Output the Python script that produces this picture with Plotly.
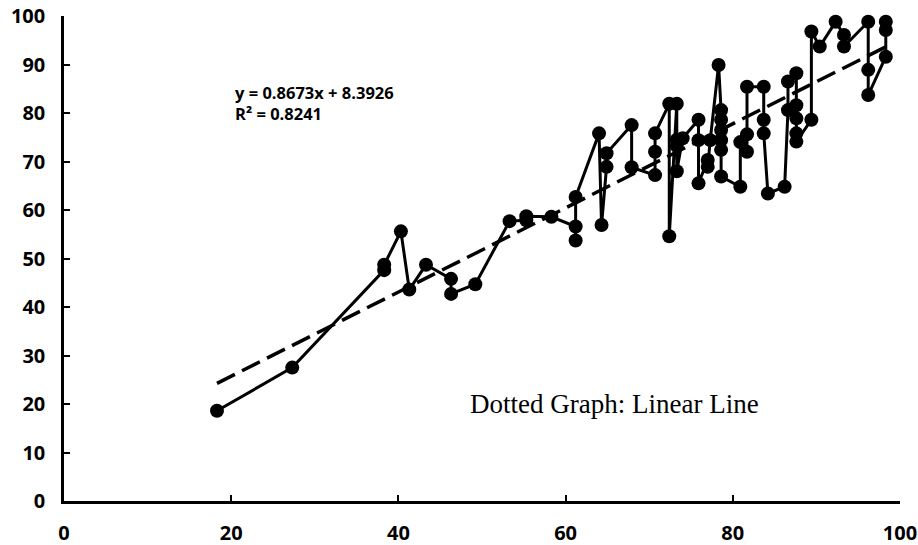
import plotly.graph_objects as go

x_vals = [18.3, 27.3, 38.3, 38.3, 40.3, 41.3, 43.3, 46.3, 46.3, 49.2,
          53.3, 55.3, 55.3, 58.3, 61.2, 61.2, 61.2, 64.0, 64.3, 64.9,
          64.9, 67.9, 67.9, 70.7, 70.7, 70.7, 72.4, 72.4, 73.3, 73.3,
          73.3, 73.3, 74.0, 75.9, 75.9, 75.9, 77.0, 77.0, 77.3, 78.3,
          78.6, 78.6, 78.6, 78.6, 78.6, 78.6, 80.9, 80.9, 81.7, 81.7,
          81.7, 83.7, 83.7, 83.7, 84.2, 86.2, 86.6, 86.6, 87.6, 87.6,
          87.6, 87.6, 87.6, 89.4, 89.4, 90.4, 92.3, 93.3, 93.3, 96.2,
          96.2, 96.2, 98.3, 98.3, 98.3]
y_vals = [18.6, 27.5, 47.6, 48.7, 55.6, 43.6, 48.7, 45.8, 42.7, 44.7,
          57.7, 57.9, 58.7, 58.6, 56.6, 53.7, 62.7, 75.8, 56.9, 68.9,
          71.7, 77.5, 68.8, 67.2, 72.0, 75.8, 81.9, 54.6, 81.9, 73.2,
          74.5, 68.0, 74.8, 78.6, 74.4, 65.5, 70.3, 68.9, 74.4, 89.9,
          80.6, 78.6, 76.5, 74.4, 72.4, 66.9, 64.8, 74.0, 72.0, 75.6,
          85.4, 85.4, 78.6, 75.8, 63.4, 64.8, 80.6, 86.5, 88.2, 81.6,
          78.9, 75.8, 74.1, 78.6, 96.8, 93.7, 98.8, 96.1, 93.7, 98.8,
          88.9, 83.7, 91.6, 97.1, 98.8]

slope = 0.8673
intercept = 8.3926
r_squared = 0.8241

x_ticks = [0, 20, 40, 60, 80, 100]
y_ticks = [0, 10, 20, 30, 40, 50, 60, 70, 80, 90, 100]

trend_x = [min(x_vals), max(x_vals)]
trend_y = [slope * v + intercept for v in trend_x]

W, H = 918, 545
ML, MR, MT, MB = 64, 18, 16, 44

fig = go.Figure()
fig.add_trace(go.Scatter(
    x=x_vals, y=y_vals, mode="lines+markers",
    line=dict(color="black", width=3),
    marker=dict(color="black", size=14),
    showlegend=False, hoverinfo="skip", cliponaxis=False))
fig.add_trace(go.Scatter(
    x=trend_x, y=trend_y, mode="lines",
    line=dict(color="black", width=3.5, dash="20px,8px"),
    showlegend=False, hoverinfo="skip"))

tickfont = dict(family="Open Sans", size=20, color="black", weight="bold")
fig.update_layout(
    width=W, height=H,
    margin=dict(l=ML, r=MR, t=MT, b=MB),
    paper_bgcolor="white", plot_bgcolor="white",
    xaxis=dict(range=[0, 100], tickvals=x_ticks, ticktext=[str(t) for t in x_ticks],
               showgrid=False, zeroline=False, showline=True, linecolor="black",
               linewidth=2.5, ticks="inside", ticklen=6, tickwidth=2,
               tickcolor="black", tickfont=tickfont, ticklabelstandoff=12,
               automargin=False),
    yaxis=dict(range=[0, 100], tickvals=y_ticks, ticktext=[str(t) for t in y_ticks],
               showgrid=False, zeroline=False, showline=True, linecolor="black",
               linewidth=2.5, ticks="inside", ticklen=6, tickwidth=2,
               tickcolor="black", tickfont=tickfont, ticklabelstandoff=12,
               automargin=False),
)

eqfont = dict(family="Open Sans", size=16.5, color="black", weight="bold")
# annotation positions given in page pixels
fig.add_annotation(x=233, y=92, xref="paper", yref="paper", showarrow=False,
                   text=f"y = {slope}x + {intercept}", font=eqfont,
                   xanchor="left", yanchor="middle")
fig.add_annotation(x=233, y=114, xref="paper", yref="paper", showarrow=False,
                   text=f"R² = {r_squared}", font=eqfont,
                   xanchor="left", yanchor="middle")
fig.add_annotation(x=468, y=404, xref="paper", yref="paper", showarrow=False,
                   text="Dotted Graph: Linear Line",
                   font=dict(family="Liberation Serif", size=27, color="black"),
                   xanchor="left", yanchor="middle")

pw = W - ML - MR
ph = H - MT - MB
for a in fig.layout.annotations:
    a.x = (a.x - ML) / pw
    a.y = 1 - (a.y - MT) / ph

fig.write_html("out.html", config={"displayModeBar": False},
               post_script="document.body.style.margin='0';document.body.style.overflow='hidden';")
